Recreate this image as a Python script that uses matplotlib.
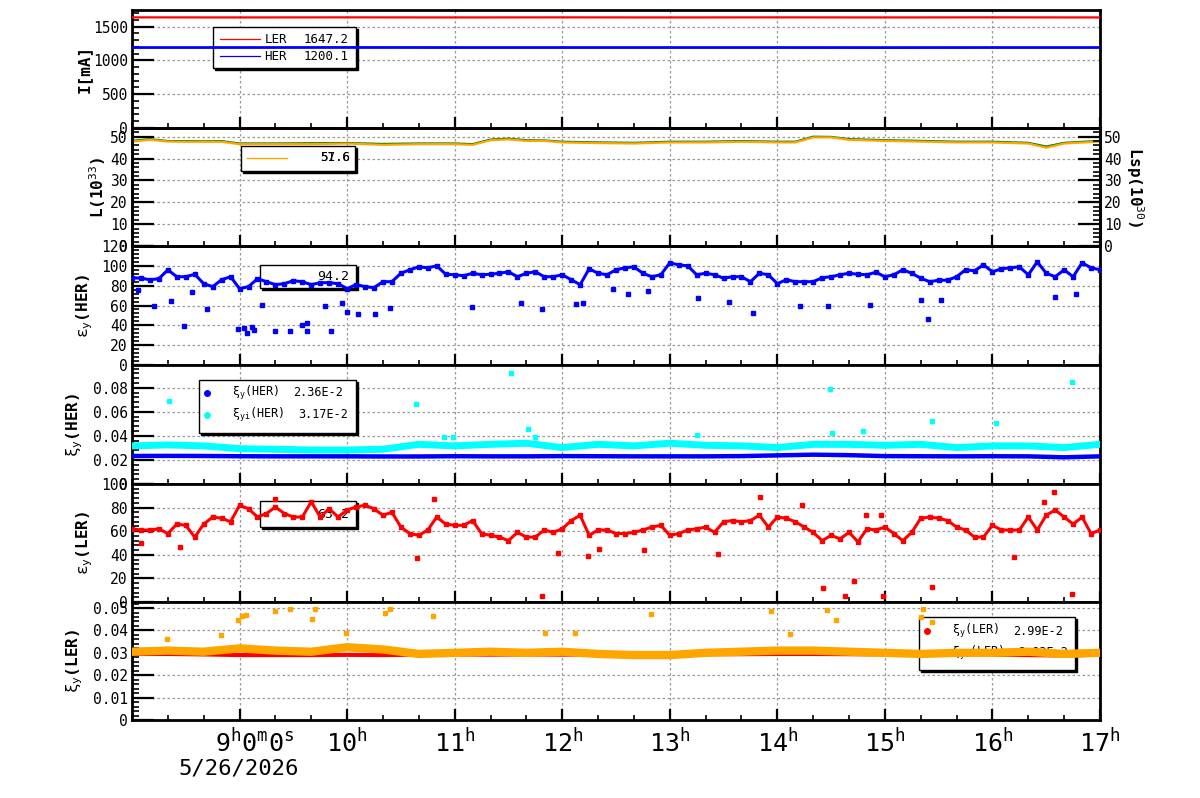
import matplotlib
matplotlib.use("Agg")
import matplotlib.pyplot as plt
import matplotlib.transforms as mtransforms
from matplotlib.patches import Rectangle
from matplotlib.ticker import MultipleLocator, FixedLocator, FuncFormatter
import numpy as np

plt.rcParams['font.family'] = ['DejaVu Sans Mono', 'DejaVu Sans']
plt.rcParams['mathtext.fontset'] = 'custom'
plt.rcParams['mathtext.rm'] = 'DejaVu Sans Mono'
plt.rcParams['mathtext.it'] = 'DejaVu Sans Mono'
plt.rcParams['mathtext.bf'] = 'DejaVu Sans Mono:bold'

# ---- data (time in hours of the day) ----
# beam currents
cur_t = [8, 9, 10, 11, 12, 13, 14, 15, 16, 17]
cur_ler = [1636, 1635, 1636, 1635, 1636, 1635, 1636, 1635, 1636, 1635]
cur_her = [1190, 1190, 1191, 1190, 1190, 1190, 1190, 1189, 1190, 1190]

# luminosity
lum_t = [8.0, 8.167, 8.333, 8.5, 8.667, 8.833, 9.0, 9.333, 9.667, 10.0, 10.333, 10.667,
         11.0, 11.167, 11.333, 11.5, 11.667, 11.833, 12.0, 12.333, 12.667, 13.0, 13.333,
         13.667, 14.0, 14.167, 14.333, 14.5, 14.667, 15.0, 15.333, 15.667, 16.0, 16.333,
         16.5, 16.667, 17.0]
lum = [47.8, 48.6, 47.8, 47.7, 47.7, 47.7, 46.6, 46.6, 46.6, 46.9, 46.3, 46.6,
       46.6, 46.3, 48.4, 48.8, 48.1, 48.1, 47.4, 47.1, 46.9, 47.4, 47.4,
       47.7, 47.4, 47.4, 49.7, 49.7, 48.6, 48.1, 47.8, 47.4, 47.4, 46.9,
       45.0, 46.9, 47.8]
lsp = [48.2, 49.0, 48.1, 48.1, 48.0, 48.1, 47.0, 47.0, 47.1, 47.2, 46.8, 47.0,
       47.0, 46.7, 48.8, 49.2, 48.5, 48.4, 47.8, 47.5, 47.3, 47.8, 47.8,
       48.1, 47.8, 47.8, 50.1, 50.0, 49.0, 48.5, 48.2, 47.8, 47.8, 47.3,
       45.6, 47.3, 48.2]

# emittance, 5 min steps
t5 = np.arange(8 * 60, 17 * 60 + 1, 5) / 60.0
eps_her = [88, 87.5, 86, 87, 96, 89, 89, 91.5, 82, 79, 86, 89,
           77, 79, 87, 84, 81, 82, 85, 84, 81, 83, 83, 82,
           77, 81, 79, 78, 84, 84, 92.5, 96, 99, 98, 100, 91.5,
           91, 90, 92.5, 91, 91.5, 92.5, 94, 89, 92.5, 94, 89, 89,
           91, 86, 81, 97, 92.5, 91, 96, 98, 99, 92.5, 89, 91,
           103, 101, 100, 91, 92.5, 91, 87.5, 89, 89, 84, 92.5, 91,
           82, 86, 84, 84, 84, 88, 89, 91, 92.5, 91.5, 91, 93.5,
           89, 91, 96, 92.5, 87.5, 84, 85.5, 85.5, 89, 96, 95, 101,
           94, 97, 98, 99, 91, 104, 92.5, 89, 96, 89, 103, 98,
           96]
eps_her_out_t = [8.06, 8.2, 8.48, 8.36, 8.70, 8.56, 8.99, 9.04, 9.07, 9.12, 9.13, 9.21,
                 9.33, 9.47, 9.58, 9.63, 9.63, 9.85, 9.79, 9.95, 10.0, 10.1, 10.26, 10.4,
                 11.16, 11.62, 11.81, 12.13, 12.19, 12.47, 12.61, 12.8, 13.26, 13.55,
                 13.77, 14.21, 14.47, 14.86, 15.34, 15.4, 15.52, 16.58, 16.78]
eps_her_out = [75.6, 59, 39, 65, 56, 74, 36, 37, 32.5, 38, 35, 61,
               34, 34, 40, 42, 34, 34, 59, 63, 53.5, 51, 51, 57,
               58, 63, 56, 62, 63, 77, 72, 74.5, 68, 64,
               52, 59, 60, 61, 65.5, 46, 66, 69, 72]

eps_ler = [62, 61, 61, 62, 58, 66, 65, 55, 66, 72, 71, 68,
           82, 79, 72, 75, 80.5, 75, 72, 72, 85, 72, 79, 72,
           78, 80.5, 82, 79, 73.5, 76, 63.5, 58, 56.5, 61, 72, 66,
           65, 65, 69, 58, 56.5, 55, 52, 59, 55, 55, 61, 59,
           62, 69, 73.5, 56.5, 61, 61, 58, 58, 59, 61, 63.5, 65,
           56.5, 58, 61, 62, 63.5, 59, 68, 69, 68, 69, 73.5, 63.5,
           72, 71, 68, 63.5, 59, 52, 56.5, 53.5, 59, 51, 62, 61,
           63.5, 58, 52, 59, 71, 72, 71, 69, 63.5, 61, 55, 55,
           65, 61, 61, 61, 72, 61, 73.5, 78, 72, 66, 72, 58,
           61]
eps_ler_out_t = [8.45, 10.65, 11.81, 12.34, 12.24, 11.96, 8.08, 10.81, 9.33,
                 12.76, 13.45, 13.84, 14.42, 14.63, 14.71, 14.98, 15.44, 16.2,
                 16.74, 16.57, 16.48, 14.82, 14.96, 14.23]
eps_ler_out = [46.5, 37, 5, 45, 39, 41.5, 50, 87, 87,
               44, 41, 89, 11.5, 5, 17.5, 5, 13, 38.5,
               7, 93, 85, 74, 74, 82]

# beam-beam parameters, 20 min steps
t20 = np.arange(8 * 60, 17 * 60 + 1, 20) / 60.0
xi_her = [0.0233, 0.0234, 0.0233, 0.0231, 0.0230, 0.0230, 0.0230, 0.0229, 0.0229, 0.0231,
          0.0230, 0.0230, 0.0232, 0.0231, 0.0230, 0.0230, 0.0230, 0.0232, 0.0238, 0.0244,
          0.0240, 0.0232, 0.0231, 0.0230, 0.0231, 0.0230, 0.0222, 0.0230]
xi_her_i = [0.0317, 0.0325, 0.0317, 0.0294, 0.0289, 0.0283, 0.0283, 0.0289, 0.0330, 0.0317,
            0.0330, 0.0339, 0.0303, 0.0330, 0.0317, 0.0339, 0.0322, 0.0317, 0.0303, 0.0330,
            0.0330, 0.0322, 0.0330, 0.0303, 0.0317, 0.0317, 0.0303, 0.0330]
xi_her_i_out_t = [8.34, 10.64, 11.52, 11.68, 11.75, 14.49, 14.51, 14.8, 15.44, 16.03,
                  16.74, 13.25, 10.9, 10.98]
xi_her_i_out = [0.0689, 0.0664, 0.0922, 0.0456, 0.0394, 0.0789, 0.0428, 0.0442, 0.0525,
                0.0506, 0.0850, 0.0406, 0.0394, 0.0390]

xi_ler = [0.0295, 0.0295, 0.0293, 0.0290, 0.0290, 0.0290, 0.0291, 0.0290, 0.0292, 0.0293,
          0.0292, 0.0293, 0.0292, 0.0293, 0.0293, 0.0294, 0.0294, 0.0294, 0.0295, 0.0295,
          0.0294, 0.0293, 0.0293, 0.0293, 0.0292, 0.0290, 0.0288, 0.0292]
xi_ler_i = [0.0305, 0.0310, 0.0305, 0.0320, 0.0310, 0.0305, 0.0325, 0.0315, 0.0295, 0.0300,
            0.0305, 0.0300, 0.0305, 0.0295, 0.0290, 0.0290, 0.0300, 0.0305, 0.0310, 0.0310,
            0.0305, 0.0300, 0.0295, 0.0300, 0.0300, 0.0305, 0.0295, 0.0300]
xi_ler_i_out_t = [8.99, 9.02, 9.06, 9.33, 9.47, 9.70, 9.67, 9.99, 10.35, 10.4, 10.8, 11.84,
                  12.12, 12.83, 13.94, 14.12, 14.46, 14.55, 15.35, 15.34, 15.44, 8.83, 8.33]
xi_ler_i_out = [0.0446, 0.0464, 0.0470, 0.0487, 0.0496, 0.0496, 0.0450, 0.0390, 0.0478,
                0.0496, 0.0464, 0.0388, 0.0388, 0.0473, 0.0487, 0.0384, 0.0491, 0.0446,
                0.0496, 0.0460, 0.0438, 0.0380, 0.0360]

hour_ticks = [9, 10, 11, 12, 13, 14, 15, 16, 17]
hour_labels = [r'$9^{h}0^{m}0^{s}$'] + [r'$%d^{h}$' % h for h in hour_ticks[1:]]

ORANGE = '#ffa500'
GREEN = '#007a00'

# ---- figure ----
fig = plt.figure(figsize=(12, 7.98), dpi=100)
W, H = 1200.0, 798.0
left, right = 132 / W, 1100 / W
edges = [10, 128, 246, 365, 484, 602, 720]
axes = []
for i in range(6):
    y0 = 1 - edges[i + 1] / H
    h = (edges[i + 1] - edges[i]) / H
    axes.append(fig.add_axes([left, y0, right - left, h]))


def style(ax, ymax, major, minor, ylabel, labx):
    ax.set_xlim(8, 17)
    ax.set_ylim(0, ymax)
    ax.set_axisbelow(True)
    ax.xaxis.set_major_locator(FixedLocator(hour_ticks))
    ax.xaxis.set_minor_locator(MultipleLocator(1 / 3))
    ax.yaxis.set_major_locator(MultipleLocator(major))
    ax.yaxis.set_minor_locator(MultipleLocator(minor))
    ax.yaxis.set_major_formatter(FuncFormatter(lambda v, p: '%g' % round(v, 6)))
    ax.grid(True, which='major', color='#999999', linestyle=(0, (2, 2)), linewidth=0.9)
    ax.tick_params(axis='y', which='major', direction='in', length=16, width=1.6,
                   labelsize=10.5, pad=3)
    ax.tick_params(axis='y', which='minor', direction='in', length=5, width=1.2)
    ax.tick_params(axis='x', which='major', direction='in', length=8, width=1.6,
                   labelbottom=False)
    ax.tick_params(axis='x', which='minor', direction='in', length=3.5, width=1.2)
    for s in ax.spines.values():
        s.set_linewidth(2)
    ax.set_ylabel(ylabel, fontsize=11.5, fontweight='bold')
    ax.yaxis.set_label_coords(labx, 0.5)


def legend_box(ax, x0, y0, x1, y1):
    # ROOT-like legend frame with a thin shadow
    shadow = Rectangle((x0 + 0.002, y0 - 0.017), x1 - x0, y1 - y0, transform=ax.transAxes,
                       facecolor='black', edgecolor='black', zorder=1.0)
    box = Rectangle((x0, y0), x1 - x0, y1 - y0, transform=ax.transAxes,
                    facecolor='white', edgecolor='black', linewidth=1.0, zorder=1.1)
    ax.add_patch(shadow)
    ax.add_patch(box)


# panel 1: currents
ax = axes[0]
style(ax, 1745, 500, 100, 'I[mA]', -0.042)
ax.plot(cur_t, cur_ler, '-', color='red', lw=1.6, zorder=3)
ax.plot(cur_t, cur_her, '-', color='blue', lw=2.0, zorder=3)
legend_box(ax, 0.0837, 0.508, 0.2314, 0.856)
ax.plot([0.091, 0.132], [0.754, 0.754], transform=ax.transAxes, color='red', lw=0.9, zorder=1.5)
ax.plot([0.091, 0.132], [0.61, 0.61], transform=ax.transAxes, color='blue', lw=0.9, zorder=1.5)
ax.text(0.137, 0.754, 'LER', transform=ax.transAxes, fontsize=9, va='center', zorder=1.5)
ax.text(0.224, 0.754, '1647.2', transform=ax.transAxes, fontsize=9, va='center', ha='right', zorder=1.5)
ax.text(0.137, 0.61, 'HER', transform=ax.transAxes, fontsize=9, va='center', zorder=1.5)
ax.text(0.224, 0.61, '1200.1', transform=ax.transAxes, fontsize=9, va='center', ha='right', zorder=1.5)

# panel 2: luminosity
ax = axes[1]
style(ax, 54, 10, 2, r'L(10$^{33}$)', -0.025)
ax.plot(lum_t, lsp, '-', color=GREEN, lw=1.3, zorder=3)
ax.plot(lum_t, lum, '-', color=ORANGE, lw=1.6, zorder=4)
legend_box(ax, 0.1126, 0.636, 0.2304, 0.847)
ax.plot([0.119, 0.160], [0.746, 0.746], transform=ax.transAxes, color=ORANGE, lw=1.0, zorder=1.5)
ax.text(0.225, 0.746, '51.6', transform=ax.transAxes, fontsize=9, va='center', ha='right', zorder=1.5)
ax.text(0.225, 0.746, '57.6', transform=ax.transAxes, fontsize=9, va='center', ha='right', zorder=1.5)
axr = ax.twinx()
axr.set_ylim(0, 54)
axr.yaxis.set_major_locator(MultipleLocator(10))
axr.yaxis.set_minor_locator(MultipleLocator(2))
axr.tick_params(axis='y', which='major', direction='in', length=16, width=1.6, labelsize=10.5, pad=3)
axr.tick_params(axis='y', which='minor', direction='in', length=5, width=1.2)
for s in axr.spines.values():
    s.set_linewidth(2)
axr.set_ylabel(r'Lsp(10$^{30}$)', fontsize=11.5, fontweight='bold', rotation=270)
axr.yaxis.set_label_coords(1.047, 0.5)

# panel 3: HER emittance
ax = axes[2]
style(ax, 120, 20, 4, r'$\varepsilon_{y}$(HER)', -0.038)
legend_box(ax, 0.132, 0.647, 0.231, 0.840)
ax.text(0.224, 0.74, '94.2', transform=ax.transAxes, fontsize=9.5, va='center', ha='right', zorder=1.5)
ax.plot(t5, eps_her, '-', color='blue', lw=2.2, zorder=3)
ax.plot(t5, eps_her, 's', color='blue', ms=3.2, zorder=3)
ax.plot(eps_her_out_t, eps_her_out, 's', color='blue', ms=3, zorder=3)

# panel 4: HER beam-beam
ax = axes[3]
style(ax, 0.099, 0.02, 0.004, r'$\xi_{y}$(HER)', -0.0486)
legend_box(ax, 0.069, 0.429, 0.231, 0.874)
ax.plot([0.0775], [0.765], 'o', color='blue', ms=4, transform=ax.transAxes, zorder=1.5)
ax.plot([0.0775], [0.58], 'o', color='cyan', ms=4, transform=ax.transAxes, zorder=1.5)
ax.text(0.103, 0.765, r'$\xi_{y}$(HER)', transform=ax.transAxes, fontsize=8.5, va='center', zorder=1.5)
ax.text(0.218, 0.765, '2.36E-2', transform=ax.transAxes, fontsize=8.5, va='center', ha='right', zorder=1.5)
ax.text(0.103, 0.58, r'$\xi_{yi}$(HER)', transform=ax.transAxes, fontsize=8.5, va='center', zorder=1.5)
ax.text(0.223, 0.58, '3.17E-2', transform=ax.transAxes, fontsize=8.5, va='center', ha='right', zorder=1.5)
ax.plot(t20, xi_her_i, '-', color='cyan', lw=5, zorder=3)
ax.plot(t20, xi_her, '-', color='blue', lw=3.2, zorder=4)
ax.plot(xi_her_i_out_t, xi_her_i_out, 's', color='cyan', ms=2.8, zorder=3)

# panel 5: LER emittance
ax = axes[4]
style(ax, 100, 20, 4, r'$\varepsilon_{y}$(LER)', -0.038)
legend_box(ax, 0.132, 0.636, 0.231, 0.856)
ax.text(0.224, 0.745, '63.2', transform=ax.transAxes, fontsize=9.5, va='center', ha='right', zorder=1.5)
ax.plot(t5, eps_ler, '-', color='red', lw=2.2, zorder=3)
ax.plot(t5, eps_ler, 's', color='red', ms=3.2, zorder=3)
ax.plot(eps_ler_out_t, eps_ler_out, 's', color='red', ms=3, zorder=3)

# panel 6: LER beam-beam
ax = axes[5]
style(ax, 0.0527, 0.01, 0.002, r'$\xi_{y}$(LER)', -0.0486)
legend_box(ax, 0.813, 0.424, 0.974, 0.873)
ax.plot([0.821], [0.754], 'o', color='red', ms=4, transform=ax.transAxes, zorder=1.5)
ax.plot([0.821], [0.568], 'o', color=ORANGE, ms=4, transform=ax.transAxes, zorder=1.5)
ax.text(0.847, 0.754, r'$\xi_{y}$(LER)', transform=ax.transAxes, fontsize=8.5, va='center', zorder=1.5)
ax.text(0.962, 0.754, '2.99E-2', transform=ax.transAxes, fontsize=8.5, va='center', ha='right', zorder=1.5)
ax.text(0.847, 0.568, r'$\xi_{yi}$(LER)', transform=ax.transAxes, fontsize=8.5, va='center', zorder=1.5)
ax.text(0.967, 0.568, '2.93E-2', transform=ax.transAxes, fontsize=8.5, va='center', ha='right', zorder=1.5)
ax.plot(t20, xi_ler, '-', color='red', lw=3.0, zorder=3)
ax.plot(t20, xi_ler_i, '-', color=ORANGE, lw=6, zorder=4)
ax.plot(xi_ler_i_out_t, xi_ler_i_out, 's', color=ORANGE, ms=2.8, zorder=4)

# time axis labels on the bottom panel
ax.set_xticks(hour_ticks)
ax.set_xticklabels(hour_labels)
ax.tick_params(axis='x', which='major', labelbottom=True, labelsize=18, pad=6)
offset = mtransforms.ScaledTranslation(15 / 100.0, 0, fig.dpi_scale_trans)
first = ax.get_xticklabels()[0]
first.set_transform(first.get_transform() + offset)
fig.text(239 / W, 1 - 768 / H, '5/26/2026', fontsize=16, ha='center', va='center')

fig.savefig('out.png', dpi=100)
